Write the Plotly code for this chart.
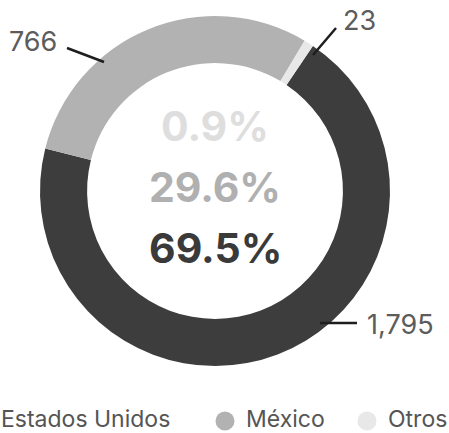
import plotly.graph_objects as go

# ---- data ----
labels = ["Estados Unidos", "México", "Otros"]
values = [1795, 766, 23]
colors = ["#3d3d3d", "#b2b2b2", "#e8e8e8"]
center_colors = ["#3a3a3a", "#b0b0b0", "#dedede"]

W, H = 449, 433
FONT = "Inter"

def px(x):
    return x / W

def py(y):
    return 1 - y / H

total = sum(values)
pcts = [v / total * 100 for v in values]

fig = go.Figure()
fig.add_trace(go.Pie(
    labels=labels,
    values=values,
    hole=0.731,
    sort=False,
    direction="clockwise",
    rotation=34,
    marker=dict(colors=colors, line=dict(width=0)),
    textinfo="none",
    hoverinfo="label+value+percent",
    showlegend=False,
    domain=dict(x=[px(40), px(390)], y=[py(366), py(16)]),
))

annotations = []
shapes = []

# center percentages (top: Otros, middle: México, bottom: Estados Unidos)
center_rows = [(2, 126), (1, 187), (0, 248)]
for idx, yc in center_rows:
    annotations.append(dict(
        x=px(215), y=py(yc), xref="paper", yref="paper",
        text=f"<b>{pcts[idx]:.1f}%</b>", showarrow=False,
        xanchor="center", yanchor="middle",
        font=dict(family=FONT, size=41, color=center_colors[idx]),
    ))

# value labels with leader lines
label_specs = [
    # idx, text anchor (x, y, xanchor), line start, line end
    (1, (59, 42, "right"), (67, 48), (104, 62)),
    (2, (341, 21, "left"), (313, 55), (336, 28)),
    (0, (365, 324, "left"), (320, 323), (357, 323)),
]
for idx, (tx, ty, xa), p0, p1 in label_specs:
    annotations.append(dict(
        x=px(tx), y=py(ty), xref="paper", yref="paper",
        text=f"{values[idx]:,}", showarrow=False,
        xanchor=xa, yanchor="middle",
        font=dict(family=FONT, size=27, color="#5c5c5c"),
    ))
    shapes.append(dict(
        type="line", xref="paper", yref="paper",
        x0=px(p0[0]), y0=py(p0[1]), x1=px(p1[0]), y1=py(p1[1]),
        line=dict(color="#1e1e1e", width=2.5),
    ))

# manual legend (first marker falls off the left edge, as in the reference)
legend_items = [(0, -20), (1, 225), (2, 367)]
for idx, mx in legend_items:
    r = 9.5
    shapes.append(dict(
        type="circle", xref="paper", yref="paper",
        x0=px(mx - r), x1=px(mx + r), y0=py(421 + r), y1=py(421 - r),
        fillcolor=colors[idx], line=dict(width=0),
    ))
    annotations.append(dict(
        x=px(mx + 19), y=py(419), xref="paper", yref="paper",
        text=labels[idx], showarrow=False,
        xanchor="left", yanchor="middle",
        font=dict(family=FONT, size=23, color="#555555"),
    ))

fig.update_layout(
    width=W, height=H,
    margin=dict(l=0, r=0, t=0, b=0),
    paper_bgcolor="white",
    plot_bgcolor="white",
    annotations=annotations,
    shapes=shapes,
    showlegend=False,
)

fig.write_html(
    "out.html",
    config={"displayModeBar": False},
    post_script="document.body.style.margin='0';document.body.style.overflow='hidden';",
)
